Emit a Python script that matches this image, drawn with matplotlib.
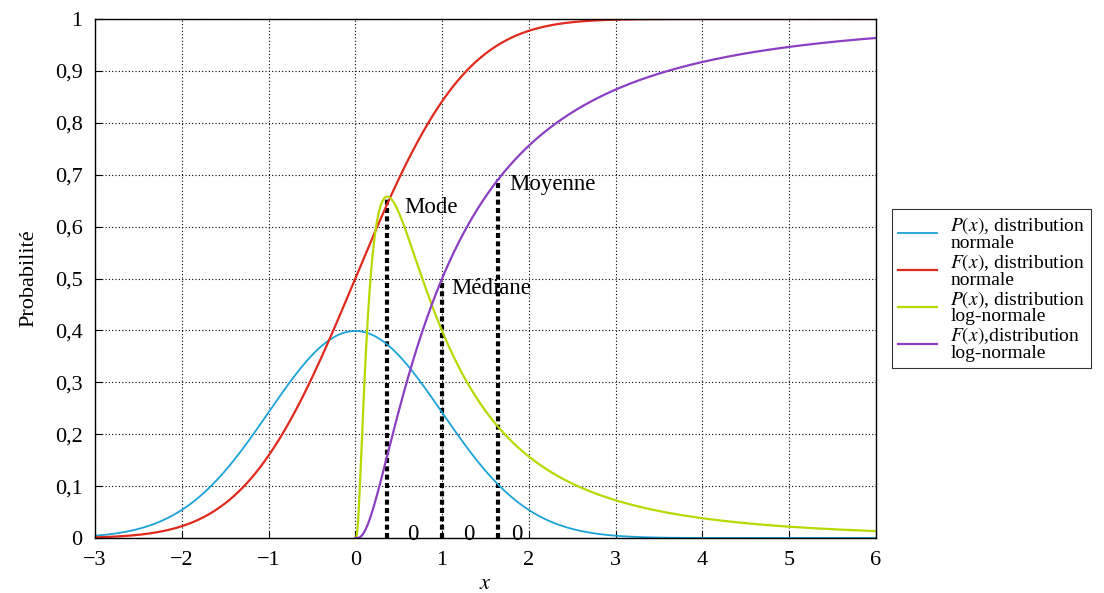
import numpy as np
import matplotlib
matplotlib.use('Agg')
import matplotlib.pyplot as plt
from math import erf

plt.rcParams['font.family'] = ['Liberation Serif', 'DejaVu Serif']
plt.rcParams['mathtext.fontset'] = 'stix'

# parametres des distributions (loi normale centree reduite, log-normale mu=0 sigma=1)
mu = 0.0
sigma = 1.0
x_min, x_max = -3, 6

# positions des reperes (mode, mediane, moyenne de la log-normale)
noms_reperes = ['Mode', 'Médiane', 'Moyenne']
x_reperes = [0.368, 1.0, 1.649]
pos_textes = [(0.56, 0.636), (1.11, 0.48), (1.78, 0.682)]
x_zeros = [0.66, 1.31, 1.86]

couleurs = ['#1ba3d8', '#e02a1e', '#b8d800', '#8b3fc3']
legendes = ['$P(x)$, distribution\nnormale', '$F(x)$, distribution\nnormale',
            '$P(x)$, distribution\nlog-normale', '$F(x)$,distribution\nlog-normale']

verf = np.vectorize(erf)

x = np.linspace(x_min, x_max, 900)
pdf_n = np.exp(-(x - mu) ** 2 / (2 * sigma ** 2)) / (sigma * np.sqrt(2 * np.pi))
cdf_n = 0.5 * (1 + verf((x - mu) / (sigma * np.sqrt(2))))

xl = np.linspace(1e-4, x_max, 1500)
pdf_ln = np.exp(-(np.log(xl) - mu) ** 2 / (2 * sigma ** 2)) / (xl * sigma * np.sqrt(2 * np.pi))
cdf_ln = 0.5 * (1 + verf((np.log(xl) - mu) / (sigma * np.sqrt(2))))
xl = np.concatenate([[0], xl])
pdf_ln = np.concatenate([[0], pdf_ln])
cdf_ln = np.concatenate([[0], cdf_ln])


def f_ln(v, cdf=False):
    z = (np.log(v) - mu) / sigma
    if cdf:
        return 0.5 * (1 + erf(z / np.sqrt(2)))
    return np.exp(-z ** 2 / 2) / (v * sigma * np.sqrt(2 * np.pi))


fig = plt.figure(figsize=(11.04, 5.93), dpi=100)
ax = fig.add_axes([0.086, 0.0927, 0.7075, 0.8753])

ax.plot(x, pdf_n, color=couleurs[0], lw=1.3, label=legendes[0])
ax.plot(x, cdf_n, color=couleurs[1], lw=1.6, label=legendes[1])
ax.plot(xl, pdf_ln, color=couleurs[2], lw=1.6, label=legendes[2])
ax.plot(xl, cdf_ln, color=couleurs[3], lw=1.6, label=legendes[3])

# lignes verticales en pointilles
hauteurs = [f_ln(x_reperes[0]), f_ln(x_reperes[1], True), f_ln(x_reperes[2], True)]
for xr, h in zip(x_reperes, hauteurs):
    ax.plot([xr, xr], [0, h], color='black', lw=3, ls=(0, (1.2, 0.8)), zorder=1)

for nom, (tx, ty) in zip(noms_reperes, pos_textes):
    ax.text(tx, ty, nom, fontsize=16.5, va='center', ha='left')
for xz in x_zeros:
    ax.text(xz, 0.006, '0', fontsize=16.5, va='center', ha='center')

ax.set_xlim(x_min, x_max)
ax.set_ylim(0, 1)
ax.set_xticks(range(-3, 7))
ax.set_xticklabels(['−3', '−2', '−1', '0', '1', '2', '3', '4', '5', '6'])
yt = np.round(np.arange(0, 1.01, 0.1), 1)
ax.set_yticks(yt)
ax.set_yticklabels(['0'] + [f'{v:.1f}'.replace('.', ',') for v in yt[1:-1]] + ['1'])
ax.tick_params(labelsize=16, direction='in', length=5, width=0.8, pad=9)
ax.grid(True, color='black', ls=(0, (1, 2)), lw=0.8)
for s in ax.spines.values():
    s.set_linewidth(1.0)

ax.set_xlabel('$x$', fontsize=16, labelpad=4)
ax.set_ylabel('Probabilité', fontsize=16, labelpad=12)

leg = ax.legend(loc='upper left', bbox_to_anchor=(1.0205, 0.634), fontsize=14,
                frameon=True, fancybox=False, edgecolor='black', handlelength=2.0,
                labelspacing=0.0, borderpad=0.3, borderaxespad=0, handletextpad=0.7)
leg.get_frame().set_linewidth(0.8)
for t in leg.get_texts():
    t.set_linespacing(0.92)

fig.savefig('out.png', dpi=100)
